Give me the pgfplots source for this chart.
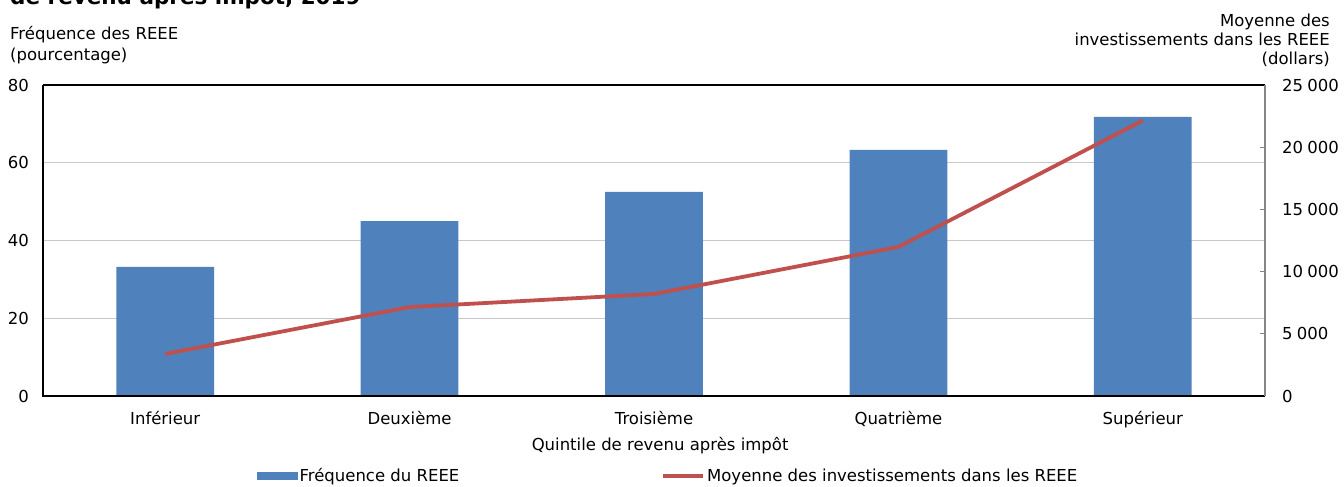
\documentclass[border=0pt]{standalone}
\usepackage{pgfplots}
\pgfplotsset{compat=1.18}
\usepackage{fontspec}
\setmainfont{DejaVu Sans}
\definecolor{barblue}{HTML}{4F81BD}
\definecolor{linered}{HTML}{C0504D}
\definecolor{gridgray}{HTML}{C8C8C8}
\definecolor{axgray}{HTML}{858585}
\begin{document}
\begin{tikzpicture}[font=\fontsize{16.5}{19}\selectfont]
\begin{axis}[
  at={(0pt,0pt)}, anchor=south west,
  scale only axis, width=1222pt, height=311pt,
  xmin=-0.5, xmax=4.5, ymin=0, ymax=80,
  xtick={0,1,2,3,4},
  xticklabels={Inférieur,Deuxième,Troisième,Quatrième,Supérieur},
  ytick={0,20,40,60,80},
  major tick length=0pt,
  axis line style={draw=none},
  ymajorgrids, grid style={gridgray, line width=1.2pt},
  /pgf/number format/assume math mode=true,
  yticklabel style={anchor=east, inner sep=0pt, xshift=-14pt},
  xticklabel style={anchor=north, inner sep=0pt, yshift=-15pt},
  xlabel={Quintile de revenu après impôt},
  xlabel style={at={(axis description cs:0.505,0)}, anchor=north, inner sep=0pt, yshift=-41pt},
]
\addplot[ybar, bar width=0.4, fill=barblue, draw=none] coordinates {
  (0,33.2) (1,45.0) (2,52.5) (3,63.3) (4,71.8)};
\end{axis}
\begin{axis}[
  at={(0pt,0pt)}, anchor=south west,
  scale only axis, width=1222pt, height=311pt,
  xmin=-0.5, xmax=4.5, ymin=0, ymax=25000,
  hide x axis,
  axis y line*=right,
  axis line style={draw=none},
  ytick={0,5000,10000,15000,20000,25000},
  scaled y ticks=false,
  ytick pos=right, tick align=inside,
  major tick length=5pt,
  tick style={axgray, line width=1pt},
  /pgf/number format/assume math mode=true,
  /pgf/number format/fixed,
  /pgf/number format/1000 sep={\hspace{0.25em}},
  yticklabel style={anchor=west, inner sep=0pt, xshift=17pt},
  legend style={at={(0.1751,-0.2572)}, anchor=west, draw=none, fill=none,
    inner sep=0pt, legend columns=2,
    nodes={inner sep=2pt, anchor=west},
    /tikz/every even column/.append style={column sep=200pt}},
  legend cell align=left,
]
\addlegendimage{legend image code/.code={\fill[barblue] (0pt,-3.5pt) rectangle (40pt,3.5pt);}}
\addlegendentry{Fréquence du REEE}
\addplot[linered, line width=3.8pt, mark=none,
  legend image code/.code={\draw[linered, line width=3.8pt] (0pt,0pt) -- (40pt,0pt);}]
  coordinates {(0,3380) (1,7150) (2,8200) (3,11980) (4,22150)};
\addlegendentry{Moyenne des investissements dans les REEE}
\end{axis}
% frame
\draw[black, line width=1.5pt] (0pt,311pt) -- (0pt,0pt) -- (1222pt,0pt);
\draw[black, line width=1.5pt] (0pt,311pt) -- (1222pt,311pt);
\draw[axgray, line width=2pt] (1222pt,0pt) -- (1222pt,311pt);
% axis titles
\node[anchor=base west, inner sep=0pt] at (-33pt,356pt) {Fréquence des REEE};
\node[anchor=base west, inner sep=0pt] at (-33pt,335pt) {(pourcentage)};
\node[anchor=base east, inner sep=0pt] at (1287pt,369pt) {Moyenne des};
\node[anchor=base east, inner sep=0pt] at (1287pt,350pt) {investissements dans les REEE};
\node[anchor=base east, inner sep=0pt] at (1287pt,331pt) {(dollars)};
% title (cut at top, as in the reference)
\node[anchor=base west, inner sep=0pt, font=\bfseries\fontsize{21.5}{24}\selectfont] at (-33pt,391pt) {de revenu après impôt, 2019};
\pgfresetboundingbox
\useasboundingbox (-43pt,-91pt) rectangle (1301pt,396pt);
\end{tikzpicture}
\end{document}
